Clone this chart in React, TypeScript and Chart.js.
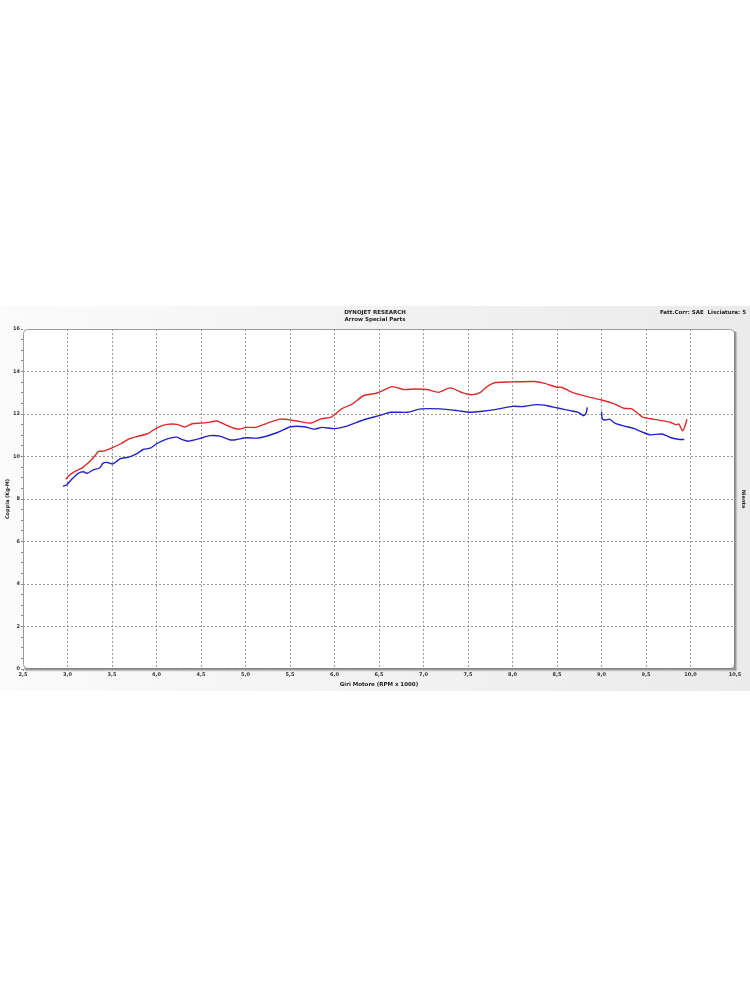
import React, { useEffect, useRef } from "react";
import { Chart, registerables } from "chart.js";

Chart.register(...registerables);

const titleLines = ["DYNOJET RESEARCH", "Arrow Special Parts"];
const infoText = "Fatt.Corr: SAE  Lisciatura: 5";
const xTitle = "Giri Motore (RPM x 1000)";
const yTitle = "Coppia (Kg-M)";
const rightTitle = "Niente";

const redRpm = [2.98, 3.03, 3.1, 3.16, 3.24, 3.29, 3.35, 3.4, 3.5, 3.6, 3.69, 3.78, 3.9, 4.0, 4.12, 4.23, 4.32, 4.4, 4.5, 4.6, 4.68, 4.79, 4.88, 4.95, 5.0, 5.11, 5.24, 5.39, 5.51, 5.62, 5.73, 5.84, 5.97, 6.08, 6.2, 6.33, 6.48, 6.65, 6.78, 6.91, 7.04, 7.17, 7.3, 7.45, 7.55, 7.64, 7.71, 7.81, 8.0, 8.25, 8.35, 8.5, 8.55, 8.68, 8.83, 9.0, 9.13, 9.25, 9.34, 9.47, 9.58, 9.68, 9.77, 9.84, 9.87, 9.91, 9.94, 9.96];
const redTorque = [8.93, 9.15, 9.34, 9.45, 9.73, 9.94, 10.24, 10.25, 10.41, 10.6, 10.83, 10.94, 11.07, 11.34, 11.51, 11.51, 11.39, 11.54, 11.57, 11.62, 11.67, 11.46, 11.32, 11.3, 11.37, 11.37, 11.56, 11.76, 11.72, 11.64, 11.57, 11.76, 11.87, 12.24, 12.47, 12.87, 12.99, 13.29, 13.15, 13.18, 13.15, 13.02, 13.23, 12.98, 12.91, 13.02, 13.28, 13.48, 13.51, 13.53, 13.45, 13.26, 13.26, 13.01, 12.83, 12.66, 12.5, 12.27, 12.24, 11.84, 11.76, 11.69, 11.61, 11.5, 11.53, 11.21, 11.45, 11.76];

const blueRpm = [2.95, 2.99, 3.05, 3.12, 3.18, 3.22, 3.29, 3.36, 3.4, 3.45, 3.51, 3.59, 3.69, 3.78, 3.85, 3.93, 4.0, 4.12, 4.23, 4.29, 4.36, 4.49, 4.6, 4.71, 4.82, 4.89, 5.0, 5.15, 5.36, 5.51, 5.66, 5.77, 5.86, 6.0, 6.14, 6.33, 6.5, 6.63, 6.82, 6.97, 7.19, 7.38, 7.53, 7.64, 7.82, 8.0, 8.12, 8.27, 8.39, 8.51, 8.65, 8.74, 8.8, 8.83, 8.84, 8.92, 9.0, 9.01, 9.05, 9.09, 9.15, 9.24, 9.36, 9.47, 9.55, 9.68, 9.79, 9.88, 9.93];
const blueTorque = [8.61, 8.66, 8.94, 9.21, 9.28, 9.21, 9.37, 9.46, 9.69, 9.72, 9.65, 9.89, 9.97, 10.13, 10.33, 10.39, 10.6, 10.83, 10.91, 10.79, 10.72, 10.85, 10.98, 10.96, 10.79, 10.79, 10.88, 10.87, 11.13, 11.4, 11.4, 11.29, 11.37, 11.31, 11.43, 11.73, 11.92, 12.08, 12.08, 12.24, 12.24, 12.16, 12.08, 12.12, 12.22, 12.36, 12.35, 12.44, 12.39, 12.28, 12.16, 12.08, 11.92, 12.08, 12.31, null, 12.11, 11.76, 11.72, 11.76, 11.57, 11.45, 11.32, 11.13, 11.02, 11.06, 10.87, 10.8, 10.8];

const FONT = "'DejaVu Sans', Verdana, sans-serif";

const framePlugin = {
  id: "dynoFrame",
  beforeDraw(chart: any) {
    const { ctx, chartArea: a, width } = chart;
    ctx.save();
    ctx.fillStyle = "#ffffff";
    ctx.fillRect(0, 0, width, chart.height);
    const g = ctx.createLinearGradient(0, 0, width, 0);
    g.addColorStop(0, "#fbfbfb");
    g.addColorStop(0.5, "#f2f2f2");
    g.addColorStop(1, "#ebebeb");
    ctx.fillStyle = g;
    ctx.fillRect(0, 306, width, 385);
    ctx.fillStyle = "#ffffff";
    ctx.beginPath();
    ctx.roundRect(a.left, a.top, a.right - a.left, a.bottom - a.top, 4);
    ctx.fill();
    ctx.restore();
  },
  afterDatasetsDraw(chart: any) {
    const { ctx, chartArea: a } = chart;
    ctx.save();
    // thin outline (left / top)
    ctx.strokeStyle = "#9a9a9a";
    ctx.lineWidth = 1;
    ctx.beginPath();
    ctx.roundRect(a.left + 0.5, a.top + 0.5, a.right - a.left - 1, a.bottom - a.top - 1, 4);
    ctx.stroke();
    // raised shadow (right / bottom)
    ctx.lineCap = "round";
    ctx.strokeStyle = "#c4c4c4";
    ctx.lineWidth = 1.5;
    ctx.beginPath();
    ctx.moveTo(a.right + 1.5, a.top + 4);
    ctx.lineTo(a.right + 1.5, a.bottom + 1.5);
    ctx.lineTo(a.left + 3, a.bottom + 1.5);
    ctx.stroke();
    ctx.strokeStyle = "#808080";
    ctx.lineWidth = 1.5;
    ctx.beginPath();
    ctx.moveTo(a.right, a.top + 3);
    ctx.lineTo(a.right, a.bottom);
    ctx.lineTo(a.left + 2, a.bottom);
    ctx.stroke();
    ctx.fillStyle = "#222";
    ctx.font = "bold 5.5px " + FONT;
    ctx.textAlign = "right";
    ctx.textBaseline = "middle";
    ctx.fillText(infoText, 746, 313);
    ctx.restore();
  },
};

const isMajorX = (v: number) => Math.abs(Math.round(v * 10)) % 5 === 0;
const isMajorY = (v: number) => Math.abs(Math.round(v * 2)) % 4 === 0;

export default function App() {
  const ref = useRef<HTMLCanvasElement>(null);
  useEffect(() => {
    document.body.style.margin = "0";
    const redData = redRpm.map((x, i) => ({ x, y: redTorque[i] }));
    const blueData = blueRpm.map((x, i) => ({ x, y: blueTorque[i] }));
    const chart = new Chart(ref.current!, {
      type: "line",
      data: {
        datasets: [
          { label: "Rosso", data: redData as any, borderColor: "#dc2a2a", borderWidth: 1.4, pointRadius: 0, tension: 0.2, fill: false, spanGaps: false, yAxisID: "y" },
          { label: "Blu", data: blueData as any, borderColor: "#2323c4", borderWidth: 1.4, pointRadius: 0, tension: 0.2, fill: false, spanGaps: false, yAxisID: "y" },
        ],
      },
      options: {
        animation: false,
        responsive: false,
        events: [],
        layout: { padding: { top: 309, bottom: 310, left: 0, right: 0 } },
        plugins: {
          legend: { display: false },
          tooltip: { enabled: false },
          title: {
            display: true,
            text: titleLines,
            color: "#222",
            font: { family: FONT, size: 5.5, weight: "bold", lineHeight: "7px" },
            padding: { top: 0, bottom: 6 },
          },
        },
        scales: {
          x: {
            type: "linear",
            min: 2.5,
            max: 10.5,
            afterFit: (s: any) => { s.height = 21; },
            ticks: {
              stepSize: 0.1,
              autoSkip: false,
              maxRotation: 0,
              padding: 1,
              color: "#333",
              font: { family: FONT, size: 5, weight: "bold" },
              callback: (v: any) => (isMajorX(Number(v)) ? Number(v).toFixed(1).replace(".", ",") : ""),
            },
            grid: {
              color: (c: any) => {
                const v = c.tick ? c.tick.value : 0;
                return isMajorX(v) && v > 2.6 && v < 10.4 ? "#9a9a9a" : "rgba(0,0,0,0)";
              },
              lineWidth: 1,
              tickLength: 2,
              tickColor: "#888",
            },
            border: { display: false, dash: [2, 2] },
            title: {
              display: true,
              text: xTitle,
              color: "#222",
              font: { family: FONT, size: 5.5, weight: "bold", lineHeight: "7px" },
              padding: { top: 1, bottom: 2 },
            },
          },
          y: {
            type: "linear",
            position: "left",
            min: 0,
            max: 16,
            afterFit: (s: any) => { s.width = 23; },
            ticks: {
              stepSize: 0.5,
              autoSkip: false,
              padding: 1,
              color: "#333",
              font: { family: FONT, size: 5, weight: "bold" },
              callback: (v: any) => (isMajorY(Number(v)) ? String(Math.round(Number(v))) : ""),
            },
            grid: {
              color: (c: any) => {
                const v = c.tick ? c.tick.value : 0;
                return isMajorY(v) && v > 0.1 && v < 15.9 ? "#9a9a9a" : "rgba(0,0,0,0)";
              },
              lineWidth: 1,
              tickLength: 2,
              tickColor: "#888",
            },
            border: { display: false, dash: [2, 2] },
            title: {
              display: true,
              text: yTitle,
              color: "#222",
              font: { family: FONT, size: 5, weight: "bold", lineHeight: "6px" },
              padding: { top: 5, bottom: 0 },
            },
          },
          y2: {
            type: "linear",
            position: "right",
            min: 0,
            max: 16,
            afterFit: (s: any) => { s.width = 15; },
            ticks: { display: false },
            grid: { display: false, drawTicks: false },
            border: { display: false },
            title: {
              display: true,
              text: rightTitle,
              color: "#222",
              font: { family: FONT, size: 5, weight: "bold", lineHeight: "6px" },
              padding: { top: 4, bottom: 0 },
            },
          },
        },
      },
      plugins: [framePlugin],
    });
    return () => chart.destroy();
  }, []);
  return <canvas ref={ref} width={750} height={1000} style={{ display: "block", width: 750, height: 1000 }} />;
}
